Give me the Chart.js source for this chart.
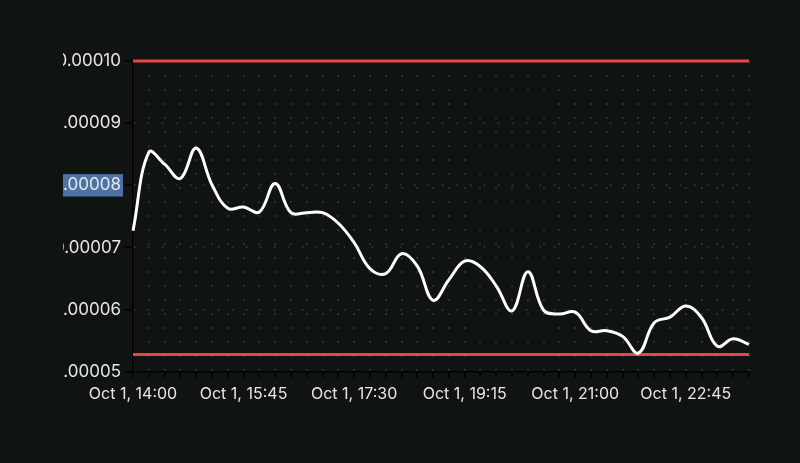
<!DOCTYPE html>
<html>
<head>
<meta charset="utf-8">
<script src="https://cdn.jsdelivr.net/npm/chart.js@4/dist/chart.umd.min.js"></script>
<style>
	html, body { margin: 0; padding: 0; background: #0f1311; overflow: hidden; }
	#moldura { position: absolute; left: 63px; top: 0; width: 737px; height: 463px; }
</style>
</head>
<body>
<div id="moldura"><canvas id="graficoPreco" width="737" height="463"></canvas></div>
<script>
var horarios = [
	'Oct 1, 14:00', 'Oct 1, 14:15', 'Oct 1, 14:30', 'Oct 1, 14:45',
	'Oct 1, 15:00', 'Oct 1, 15:15', 'Oct 1, 15:30', 'Oct 1, 15:45',
	'Oct 1, 16:00', 'Oct 1, 16:15', 'Oct 1, 16:30', 'Oct 1, 16:45',
	'Oct 1, 17:00', 'Oct 1, 17:15', 'Oct 1, 17:30', 'Oct 1, 17:45',
	'Oct 1, 18:00', 'Oct 1, 18:15', 'Oct 1, 18:30', 'Oct 1, 18:45',
	'Oct 1, 19:00', 'Oct 1, 19:15', 'Oct 1, 19:30', 'Oct 1, 19:45',
	'Oct 1, 20:00', 'Oct 1, 20:15', 'Oct 1, 20:30', 'Oct 1, 20:45',
	'Oct 1, 21:00', 'Oct 1, 21:15', 'Oct 1, 21:30', 'Oct 1, 21:45',
	'Oct 1, 22:00', 'Oct 1, 22:15', 'Oct 1, 22:30', 'Oct 1, 22:45',
	'Oct 1, 23:00', 'Oct 1, 23:15', 'Oct 1, 23:30', 'Oct 1, 23:45'
];

var valores = [
	0.0000727, 0.0000853, 0.0000834, 0.0000811, 0.0000860, 0.0000801, 0.0000763, 0.0000765,
	0.0000757, 0.0000803, 0.0000756, 0.0000756, 0.0000756, 0.0000739, 0.0000708, 0.0000666,
	0.0000658, 0.0000690, 0.0000670, 0.0000615, 0.0000648, 0.0000678, 0.0000669, 0.0000638,
	0.0000598, 0.0000661, 0.0000599, 0.0000593, 0.0000596, 0.0000566, 0.0000566, 0.0000557,
	0.0000530, 0.0000579, 0.0000588, 0.0000606, 0.0000587, 0.0000541, 0.0000553, 0.0000544
];

var limiteSuperior = 0.00010;
var limiteInferior = 0.0000528;

var eixoY = { min: 0.00005, max: 0.00010, passo: 0.00001, destaque: 0.00008 };

function linhaLimite(valor) {
	return [
		{ x: horarios[0], y: valor },
		{ x: horarios[horarios.length - 1], y: valor }
	];
}

var ctx = document.getElementById('graficoPreco').getContext('2d');

var graficoPreco = new Chart(ctx, {
	type: 'line',
	data: {
		labels: horarios,
		datasets: [{
			label: 'Preço',
			data: valores,
			borderColor: '#ffffff',
			borderWidth: 3,
			pointRadius: 0,
			tension: 0.4,
			order: 0
		}, {
			label: 'Limite superior',
			data: linhaLimite(limiteSuperior),
			borderColor: '#e84545',
			borderWidth: 3,
			pointRadius: 0,
			clip: false,
			order: 1
		}, {
			label: 'Limite inferior',
			data: linhaLimite(limiteInferior),
			borderColor: '#e84545',
			borderWidth: 3,
			pointRadius: 0,
			clip: false,
			order: 1
		}]
	},
	options: {
		responsive: false,
		animation: false,
		layout: {
			padding: { top: 61, right: 51, bottom: 52, left: 0 }
		},
		plugins: {
			legend: { display: false },
			tooltip: { enabled: false }
		},
		scales: {
			x: {
				offset: false,
				border: { color: '#000000', width: 1.5, dash: [2, 12] },
				grid: {
					color: '#2a2e2c',
					lineWidth: 2,
					tickColor: '#000000',
					tickLength: 6,
					tickWidth: 1.5,
					tickBorderDash: []
				},
				ticks: {
					autoSkip: false,
					maxRotation: 0,
					padding: 7,
					color: '#e6e6e6',
					font: { family: 'Inter', size: 16 },
					callback: function(valor, indice) {
						return indice % 7 === 0 ? horarios[indice] : '';
					}
				}
			},
			y: {
				min: eixoY.min,
				max: eixoY.max,
				afterFit: function(escala) { escala.width = 70; },
				border: { color: '#000000', width: 1.5, dash: [2, 12] },
				grid: {
					color: '#2a2e2c',
					lineWidth: 2,
					tickColor: '#000000',
					tickLength: 8,
					tickWidth: 1.5,
					tickBorderDash: []
				},
				ticks: {
					stepSize: eixoY.passo,
					padding: 4,
					color: '#e6e6e6',
					font: { family: 'Inter', size: 17 },
					showLabelBackdrop: true,
					backdropPadding: { top: 1, bottom: 1, left: 3, right: 2 },
					backdropColor: function(c) {
						return Math.abs(c.tick.value - eixoY.destaque) < 1e-9 ? '#4d72a6' : 'rgba(0,0,0,0)';
					},
					callback: function(valor) { return valor.toFixed(5); }
				}
			}
		}
	}
});
</script>
</body>
</html>
